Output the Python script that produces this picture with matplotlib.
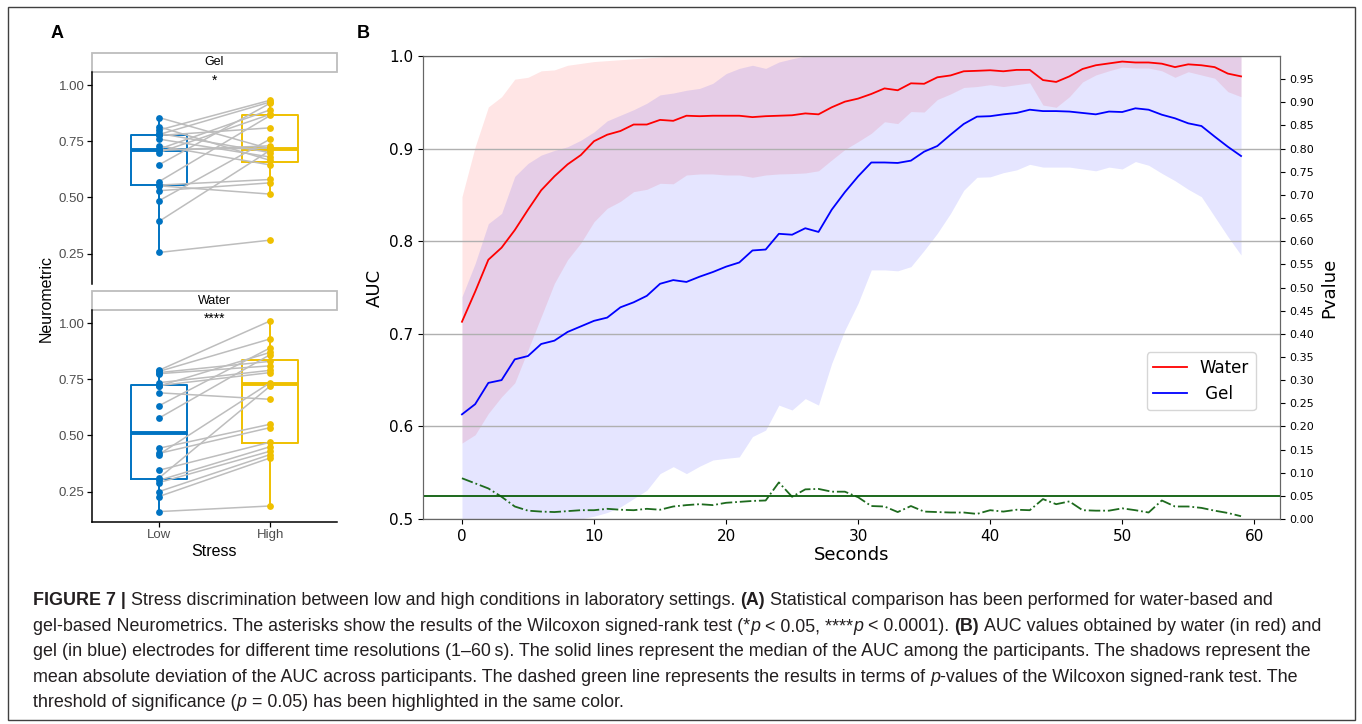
import matplotlib
matplotlib.use('Agg')
import matplotlib.pyplot as plt
from matplotlib.patches import Rectangle
from matplotlib.font_manager import FontProperties

# ---------------- panel A: paired neurometrics ----------------
gel_low = [0.856, 0.815, 0.800, 0.785, 0.780, 0.776, 0.760, 0.730, 0.715, 0.712,
           0.710, 0.700, 0.645, 0.570, 0.555, 0.552, 0.530, 0.485, 0.393, 0.255]
gel_high = [0.716, 0.665, 0.933, 0.700, 0.925, 0.810, 0.680, 0.645, 0.890, 0.720,
            0.730, 0.870, 0.920, 0.865, 0.580, 0.515, 0.565, 0.760, 0.710, 0.310]
water_low = [0.790, 0.785, 0.780, 0.775, 0.735, 0.722, 0.720, 0.690, 0.632, 0.577,
             0.443, 0.420, 0.415, 0.345, 0.310, 0.300, 0.290, 0.250, 0.228, 0.161]
water_high = [1.010, 0.930, 0.830, 0.810, 0.790, 0.780, 0.870, 0.661, 0.890, 0.860,
              0.550, 0.535, 0.735, 0.470, 0.720, 0.450, 0.430, 0.415, 0.400, 0.186]
stress_levels = ['Low', 'High']
facets = ['Gel', 'Water']
signif = ['*', '****']
a_yticks = [0.25, 0.50, 0.75, 1.00]

# ---------------- panel B: AUC over time ----------------
seconds = list(range(60))
water_med = [0.713, 0.7455, 0.780, 0.793, 0.812, 0.834, 0.855, 0.870, 0.883, 0.893,
             0.908, 0.915, 0.919, 0.926, 0.926, 0.931, 0.930, 0.9355, 0.935, 0.9355,
             0.9355, 0.9355, 0.934, 0.935, 0.9355, 0.936, 0.938, 0.937, 0.9446, 0.9507,
             0.954, 0.959, 0.965, 0.963, 0.9705, 0.970, 0.977, 0.979, 0.9835, 0.984,
             0.9846, 0.9835, 0.985, 0.985, 0.974, 0.972, 0.978, 0.986, 0.990, 0.992,
             0.994, 0.993, 0.993, 0.9917, 0.988, 0.991, 0.990, 0.988, 0.981, 0.978]
water_up = [0.848, 0.902, 0.945, 0.956, 0.975, 0.977, 0.984, 0.985, 0.990, 0.992,
            0.994, 0.995, 0.996, 0.997, 0.998, 0.999, 1.0, 1.0, 1.0, 1.0,
            1.0, 1.0, 1.0, 1.0, 1.0, 1.0, 1.0, 1.0, 1.0, 1.0,
            1.0, 1.0, 1.0, 1.0, 1.0, 1.0, 1.0, 1.0, 1.0, 1.0,
            1.0, 1.0, 1.0, 1.0, 1.0, 1.0, 1.0, 1.0, 1.0, 1.0,
            1.0, 1.0, 1.0, 1.0, 1.0, 1.0, 1.0, 1.0, 1.0, 1.0]
water_lo = [0.582, 0.591, 0.614, 0.632, 0.647, 0.6825, 0.7185, 0.7545, 0.780, 0.798,
            0.821, 0.8355, 0.843, 0.8535, 0.856, 0.8625, 0.862, 0.8715, 0.8726, 0.8726,
            0.8715, 0.8715, 0.869, 0.8715, 0.8726, 0.873, 0.8737, 0.876, 0.8877, 0.899,
            0.9075, 0.9165, 0.929, 0.927, 0.940, 0.9395, 0.953, 0.959, 0.966, 0.967,
            0.969, 0.967, 0.969, 0.971, 0.947, 0.9446, 0.956, 0.972, 0.9795, 0.984,
            0.988, 0.987, 0.987, 0.984, 0.977, 0.983, 0.9795, 0.976, 0.9615, 0.956]
gel_med = [0.613, 0.624, 0.647, 0.650, 0.6724, 0.676, 0.689, 0.6926, 0.702, 0.708,
           0.714, 0.7175, 0.7286, 0.734, 0.741, 0.754, 0.758, 0.756, 0.7617, 0.7667,
           0.7725, 0.777, 0.790, 0.791, 0.808, 0.807, 0.814, 0.810, 0.834, 0.853,
           0.870, 0.885, 0.885, 0.8845, 0.887, 0.8967, 0.9028, 0.915, 0.9266, 0.9345,
           0.935, 0.937, 0.9385, 0.942, 0.9405, 0.9405, 0.940, 0.9385, 0.937, 0.940,
           0.9395, 0.9435, 0.942, 0.9366, 0.9327, 0.9273, 0.9244, 0.913, 0.902, 0.892]
gel_up = [0.740, 0.776, 0.819, 0.830, 0.870, 0.884, 0.893, 0.898, 0.902, 0.909,
          0.918, 0.930, 0.936, 0.942, 0.949, 0.958, 0.960, 0.963, 0.965, 0.9705,
          0.981, 0.9866, 0.990, 0.9866, 0.9935, 0.997, 1.0, 1.0, 1.0, 1.0,
          1.0, 1.0, 1.0, 1.0, 1.0, 1.0, 1.0, 1.0, 1.0, 1.0,
          1.0, 1.0, 1.0, 1.0, 1.0, 1.0, 1.0, 1.0, 1.0, 1.0,
          1.0, 1.0, 1.0, 1.0, 1.0, 1.0, 1.0, 1.0, 1.0, 1.0]
gel_lo = [0.486, 0.470, 0.460, 0.455, 0.460, 0.465, 0.470, 0.480, 0.497, 0.500,
          0.503, 0.507, 0.513, 0.522, 0.531, 0.549, 0.5565, 0.549, 0.557, 0.5637,
          0.5655, 0.567, 0.589, 0.596, 0.623, 0.6177, 0.630, 0.623, 0.668, 0.704,
          0.733, 0.769, 0.769, 0.768, 0.7725, 0.790, 0.8085, 0.830, 0.855, 0.869,
          0.8695, 0.874, 0.877, 0.883, 0.880, 0.880, 0.880, 0.878, 0.876, 0.880,
          0.878, 0.886, 0.882, 0.8733, 0.8653, 0.856, 0.848, 0.8265, 0.805, 0.785]
pvalues = [0.088, 0.077, 0.066, 0.048, 0.027, 0.018, 0.016, 0.015, 0.017, 0.019,
           0.019, 0.022, 0.020, 0.019, 0.022, 0.020, 0.027, 0.030, 0.032, 0.030,
           0.035, 0.037, 0.039, 0.040, 0.079, 0.048, 0.064, 0.065, 0.059, 0.059,
           0.047, 0.028, 0.027, 0.015, 0.028, 0.016, 0.015, 0.014, 0.014, 0.011,
           0.019, 0.016, 0.020, 0.019, 0.043, 0.032, 0.038, 0.019, 0.018, 0.018,
           0.023, 0.019, 0.014, 0.040, 0.027, 0.027, 0.024, 0.018, 0.013, 0.006]
p_threshold = 0.05
p_ticks = [i / 20 for i in range(20)]

W, H = 1362, 724
fig = plt.figure(figsize=(W / 100, H / 100), dpi=100)
ARIAL = 'Liberation Sans'
blue, yellow = '#0073C2', '#EFC000'

# ---- panel A ----
tops = [71.7, 309.7]
for k, (name, lo, hi, star) in enumerate(zip(facets, [gel_low, water_low],
                                             [gel_high, water_high], signif)):
    ax = fig.add_axes([92 / W, 1 - (tops[k] + 212) / H, 245 / W, 212 / H])
    for a, b in zip(lo, hi):
        ax.plot([1, 2], [a, b], color='#bdbdbd', lw=1.1, zorder=2)
    for pos, vals, col in [(1, lo, blue), (2, hi, yellow)]:
        ax.boxplot([vals], positions=[pos], widths=0.5, showfliers=False,
                   showcaps=False, whis=1.5, manage_ticks=False, zorder=1,
                   boxprops=dict(color=col, lw=1.4),
                   whiskerprops=dict(color=col, lw=1.4),
                   medianprops=dict(color=col, lw=2.8))
        ax.scatter([pos] * len(vals), vals, s=24, color=col, zorder=3, linewidths=0)
    ax.set_xlim(0.4, 2.6)
    ax.set_ylim(0.116, 1.06)
    ax.set_yticks(a_yticks, ['%.2f' % v for v in a_yticks], fontfamily=ARIAL,
                  fontsize=9.5, color='#4d4d4d')
    for s in ['top', 'right']:
        ax.spines[s].set_visible(False)
    ax.spines['left'].set_linewidth(1.1)
    ax.tick_params(axis='y', length=3.5, width=0.9, pad=2)
    if k == 0:
        ax.spines['bottom'].set_visible(False)
        ax.set_xticks([])
    else:
        ax.spines['bottom'].set_linewidth(1.1)
        ax.set_xticks([1, 2], stress_levels, fontfamily=ARIAL, fontsize=9.5,
                      color='#4d4d4d')
        ax.tick_params(axis='x', length=3.5, width=0.9, pad=2)
    ax.add_patch(Rectangle((0, 1.0), 1, 18.4 / 212, transform=ax.transAxes,
                           clip_on=False, facecolor='white', edgecolor='#bdbdbd', lw=1.3))
    ax.text(0.5, 1 + 9.2 / 212, name, transform=ax.transAxes, ha='center',
            va='center', fontsize=9, family=ARIAL)
    ax.text(1.5, 1.02, star, ha='center', va='center', fontsize=10, family=ARIAL)

fig.text(46 / W, 1 - 298 / H, 'Neurometric', rotation=90, ha='center', va='center',
         fontsize=11.5, family=ARIAL)
fig.text(214 / W, 1 - 551 / H, 'Stress', ha='center', va='center', fontsize=11.5,
         family=ARIAL)
fig.text(57 / W, 1 - 33 / H, 'A', ha='center', va='center', fontsize=13,
         fontweight='bold', family=ARIAL)
fig.text(363 / W, 1 - 33 / H, 'B', ha='center', va='center', fontsize=13,
         fontweight='bold', family=ARIAL)

# ---- panel B ----
axB = fig.add_axes([423 / W, 1 - 519 / H, 857 / W, 463 / H])
axB.fill_between(seconds, water_lo, water_up, color='red', alpha=0.1, lw=0)
axB.fill_between(seconds, gel_lo, gel_up, color='blue', alpha=0.1, lw=0)
lw_, = axB.plot(seconds, water_med, color='red', lw=1.3, label='Water')
lg_, = axB.plot(seconds, gel_med, color='blue', lw=1.3, label=' Gel')
axB.set_ylim(0.5, 1.0)
axB.set_yticks([0.5, 0.6, 0.7, 0.8, 0.9, 1.0])
axB.set_xticks([0, 10, 20, 30, 40, 50, 60])
axB.yaxis.grid(True, color='#b0b0b0', lw=1)
axB.tick_params(labelsize=11)
axB.set_xlabel('Seconds', fontsize=13, labelpad=2)
axB.set_ylabel('AUC', fontsize=13)

ax2 = axB.twinx()
ax2.plot(seconds, pvalues, color='#1e6b1e', ls='-.', lw=1.3)
ax2.axhline(p_threshold, color='#0b5d0b', lw=1.3)
ax2.set_ylim(0, 1)
ax2.set_yticks(p_ticks, ['%.2f' % v for v in p_ticks], fontsize=8)
ax2.set_ylabel('Pvalue', fontsize=13)
for a in (axB, ax2):
    for s in a.spines.values():
        s.set_color('#666666')
ax2.legend([lw_, lg_], ['Water', ' Gel'], loc='center', bbox_to_anchor=(0.908, 0.298),
           fontsize=12, handlelength=2.0)

# ---- caption ----
caption = [
    [('FIGURE 7 |', 'b'), (' Stress discrimination between low and high conditions in laboratory settings. ', 'n'),
     ('(A)', 'b'), (' Statistical comparison has been performed for water-based and', 'n')],
    [('gel-based Neurometrics. The asterisks show the results of the Wilcoxon signed-rank test (*', 'n'),
     ('p', 'i'), (' < 0.05, ****', 'n'), ('p', 'i'), (' < 0.0001). ', 'n'), ('(B)', 'b'),
     (' AUC values obtained by water (in red) and', 'n')],
    [('gel (in blue) electrodes for different time resolutions (1\u201360\u2009s). The solid lines represent '
      'the median of the AUC among the participants. The shadows represent the', 'n')],
    [('mean absolute deviation of the AUC across participants. The dashed green line represents the '
      'results in terms of ', 'n'), ('p', 'i'), ('-values of the Wilcoxon signed-rank test. The', 'n')],
    [('threshold of significance (', 'n'), ('p', 'i'), (' = 0.05) has been highlighted in the same color.', 'n')],
]
cap_y = [600, 626, 651, 677, 702]
cap_target = 1257 + 1273 + 1269 + 1267  # widths of the four full lines

renderer = fig.canvas.get_renderer()


def props(style, fs):
    if style == 'b':
        return FontProperties(family=[ARIAL, 'DejaVu Sans'], weight='bold', size=fs)
    if style == 'i':
        return FontProperties(family=[ARIAL, 'DejaVu Sans'], style='italic', size=fs)
    return FontProperties(family=[ARIAL, 'DejaVu Sans'], size=fs)


def twidth(s, fp):
    return renderer.get_text_width_height_descent(s, fp, ismath=False)[0]


def segments_width(line, fs):
    sp = twidth('x x', props('n', fs)) - twidth('xx', props('n', fs))
    total = 0
    for text, st in line:
        core = text.strip(' ')
        lead = len(text) - len(text.lstrip(' '))
        trail = len(text) - len(text.rstrip(' '))
        total += (lead + trail) * sp + twidth(core, props(st, fs))
    return total


fs_cap = 12 * cap_target / sum(segments_width(l, 12) for l in caption[:4])
space_w = twidth('x x', props('n', fs_cap)) - twidth('xx', props('n', fs_cap))
for line, yc in zip(caption, cap_y):
    x = 33.0
    for text, st in line:
        core = text.strip(' ')
        lead = len(text) - len(text.lstrip(' '))
        trail = len(text) - len(text.rstrip(' '))
        x += lead * space_w
        fp = props(st, fs_cap)
        fig.text(x / W, 1 - (yc + 5) / H, core, fontproperties=fp, va='baseline',
                 ha='left', color='#231f20')
        x += twidth(core, fp) + trail * space_w

fig.add_artist(Rectangle((8 / W, 1 - 720 / H), (1355 - 8) / W, (720 - 7) / H,
                         transform=fig.transFigure, fill=False, edgecolor='#404040', lw=1))

fig.savefig('out.png', dpi=100)
